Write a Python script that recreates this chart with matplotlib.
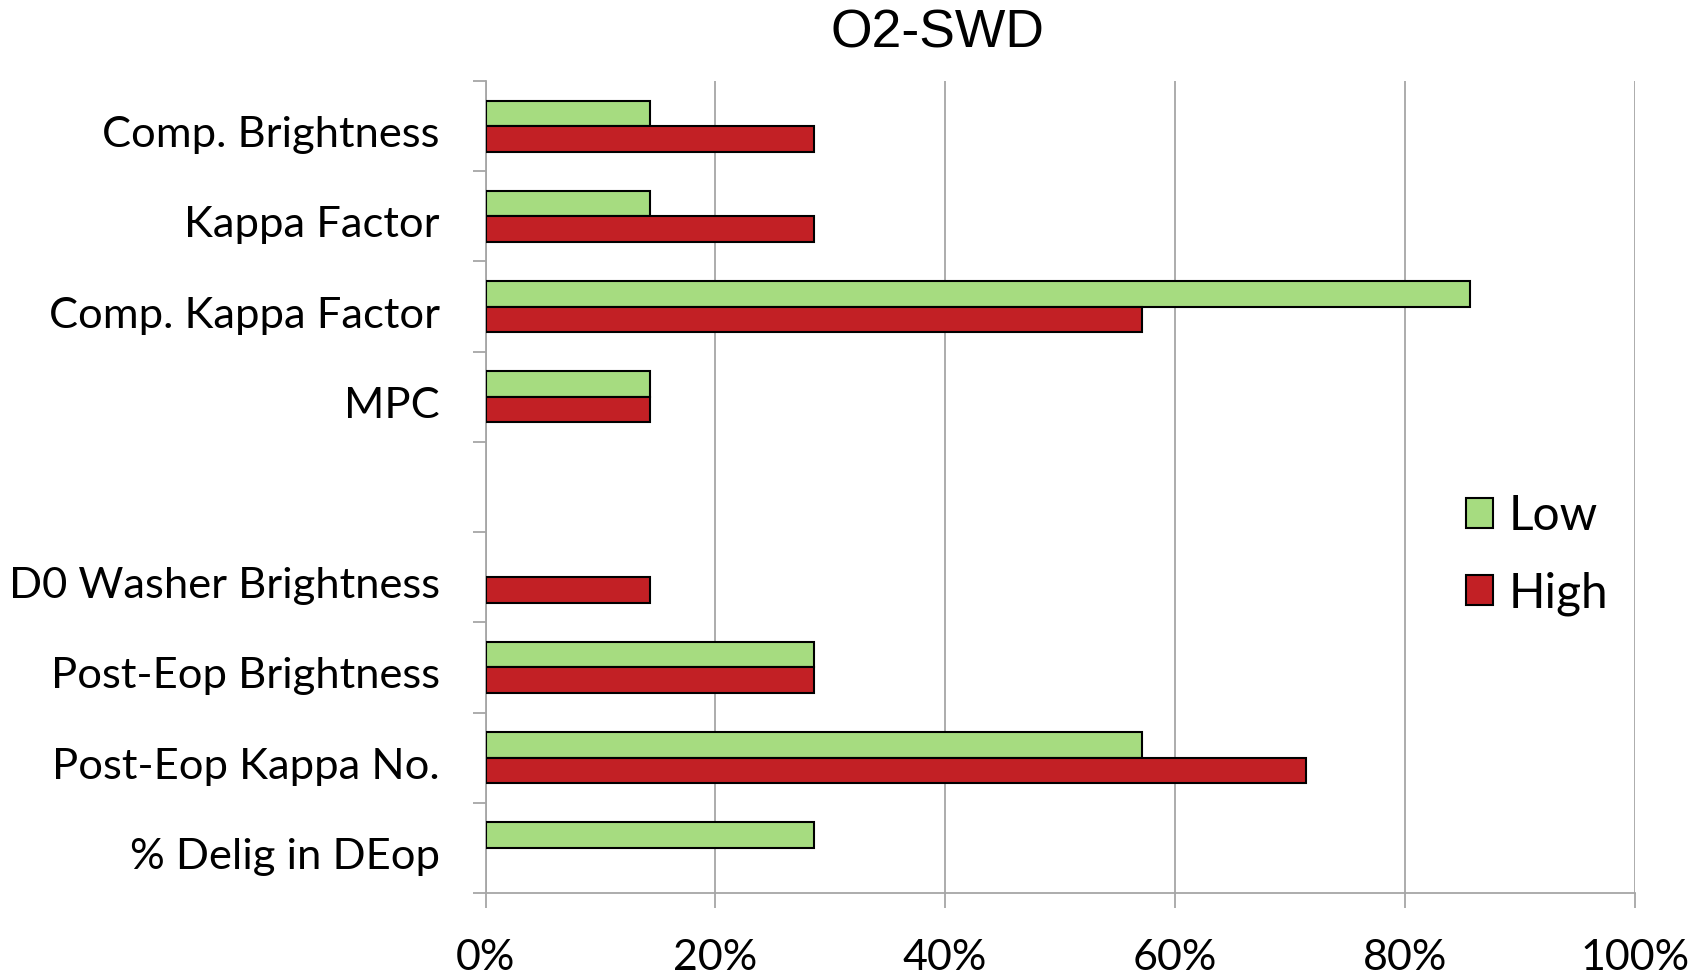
import numpy as np
import matplotlib
matplotlib.use("Agg")
import matplotlib.pyplot as plt
import matplotlib.transforms as mtransforms
from matplotlib.ticker import FixedLocator, PercentFormatter

title = "O2-SWD"
categories = ["Comp. Brightness", "Kappa Factor", "Comp. Kappa Factor", "MPC", "",
              "D0 Washer Brightness", "Post-Eop Brightness", "Post-Eop Kappa No.",
              "% Delig in DEop"]
low = [14.29, 14.29, 85.71, 14.29, None, None, 28.57, 57.14, 28.57]
high = [28.57, 28.57, 57.14, 14.29, None, 14.29, 28.57, 71.43, None]
series_names = ["Low", "High"]
colors = ["#A6DC80", "#C22025"]
x_ticks = [0, 20, 40, 60, 80, 100]

W, H = 1703, 975
fig = plt.figure(figsize=(W / 100, H / 100), dpi=100)
ax = fig.add_axes([485.5 / W, 1 - 893 / H, (1634.6 - 485.5) / W, (893 - 81) / H])

label_font = "Lato"
grid_col = "#A6A6A6"
bar_h = 0.283
y = np.arange(len(categories))

handles = []
for vals, off, col, name in zip([low, high], [-bar_h / 2, bar_h / 2], colors, series_names):
    idx = [i for i, v in enumerate(vals) if v is not None]
    b = ax.barh(y[idx] + off, [vals[i] for i in idx], height=bar_h, color=col,
                edgecolor="black", linewidth=1.5, zorder=3, label=name)
    handles.append(b)

ax.set_xlim(0, 100)
ax.set_ylim(len(categories) - 0.5, -0.5)

ax.xaxis.set_major_locator(FixedLocator(x_ticks))
ax.xaxis.set_major_formatter(PercentFormatter(decimals=0))
ax.grid(axis="x", color=grid_col, linewidth=1.3, zorder=0)
ax.set_axisbelow(True)

ax.set_yticks(y)
ax.set_yticklabels(categories)
ax.yaxis.set_minor_locator(FixedLocator(np.arange(-0.5, len(categories), 1.0)))
ax.tick_params(axis="y", which="major", length=0, pad=33, labelsize=31.3)
ax.tick_params(axis="y", which="minor", length=9.5, width=1.3, color=grid_col)
ax.tick_params(axis="x", which="major", length=11, width=1.3, color=grid_col,
               pad=22, labelsize=31)
for lbl in ax.get_xticklabels() + ax.get_yticklabels():
    lbl.set_fontfamily(label_font)

# nudge category labels slightly downward
shift = mtransforms.ScaledTranslation(0, -5.5 / 100, fig.dpi_scale_trans)
for lbl in ax.get_yticklabels():
    lbl.set_transform(lbl.get_transform() + shift)

for s in ["top", "right"]:
    ax.spines[s].set_visible(False)
for s in ["left", "bottom"]:
    ax.spines[s].set_color(grid_col)
    ax.spines[s].set_linewidth(1.3)

fig.text(937 / W, 1 - 34 / H, title, ha="center", va="center",
         fontsize=38.5, family="Liberation Sans")

leg = fig.legend(handles=handles, labels=series_names, loc="upper left",
                 bbox_to_anchor=(1466 / W, 1 - 494 / H), frameon=False,
                 prop={"family": label_font, "size": 34.5},
                 handlelength=0.57, handleheight=0.57, handletextpad=0.32,
                 labelspacing=0.69, borderpad=0, borderaxespad=0)

fig.savefig("out.png", dpi=100, facecolor="white")
